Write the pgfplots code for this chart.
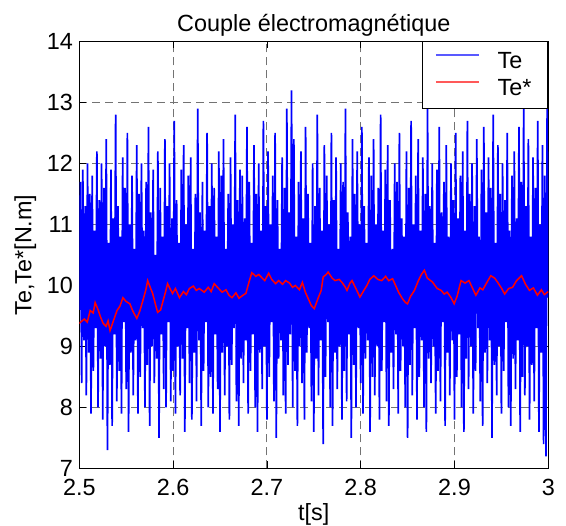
\documentclass[border=0pt]{standalone}
\usepackage{fontspec}
\setmainfont{Liberation Sans}
\usepackage{pgfplots}
\usepackage{pgfplotstable}
\pgfplotsset{compat=1.18}
\newcommand{\f}{\fontsize{11.7}{14}\selectfont}
\pgfplotstableread[header=false,row sep=\\]{
9.6\\11.7\\8.4\\11.9\\9.1\\11.3\\8.2\\12.0\\8.9\\11.5\\7.9\\11.8\\8.6\\10.9\\9.3\\12.2\\8.0\\11.4\\8.8\\12.0\\
7.8\\11.6\\9.0\\12.4\\7.3\\10.7\\8.7\\11.9\\7.7\\11.1\\9.2\\12.8\\8.1\\11.3\\8.6\\10.8\\7.9\\12.1\\9.4\\11.6\\
8.3\\12.5\\7.6\\11.0\\8.9\\11.8\\8.2\\10.6\\9.1\\12.3\\7.9\\11.5\\8.5\\12.0\\9.3\\10.9\\8.0\\11.7\\8.7\\12.6\\
7.7\\11.2\\9.0\\11.9\\8.4\\10.5\\8.8\\12.2\\7.5\\11.6\\9.2\\10.8\\8.3\\12.4\\8.0\\11.3\\9.4\\12.0\\8.1\\11.1\\
8.6\\12.7\\7.9\\11.4\\9.0\\10.7\\8.2\\11.9\\8.8\\12.3\\7.6\\11.0\\9.3\\11.8\\8.4\\12.1\\7.8\\10.6\\8.9\\11.5\\
8.1\\12.9\\9.1\\11.2\\7.7\\11.7\\8.6\\10.9\\9.4\\12.5\\8.0\\11.3\\8.5\\12.0\\7.9\\11.6\\9.2\\10.8\\8.3\\12.2\\
7.6\\11.8\\8.9\\12.4\\8.2\\10.6\\9.0\\11.5\\7.8\\12.1\\8.7\\11.0\\9.3\\12.8\\8.1\\11.4\\7.7\\11.9\\8.8\\11.8\\
8.4\\11.1\\9.1\\12.6\\7.9\\11.7\\8.6\\10.7\\9.2\\12.3\\8.0\\11.5\\7.6\\12.0\\8.9\\10.9\\8.3\\12.7\\9.0\\11.3\\
7.8\\12.2\\8.5\\11.0\\9.4\\11.8\\8.1\\12.5\\7.5\\11.4\\8.8\\10.6\\9.1\\12.1\\8.2\\11.6\\7.9\\12.9\\8.7\\11.2\\
9.2\\13.2\\8.0\\12.4\\8.6\\10.8\\7.7\\11.7\\9.0\\12.2\\8.4\\11.1\\7.8\\12.6\\8.9\\11.5\\9.3\\10.7\\8.1\\12.0\\
7.6\\11.3\\8.8\\12.8\\8.2\\11.6\\9.1\\10.9\\7.4\\12.3\\8.5\\11.8\\9.4\\11.0\\8.0\\12.5\\7.7\\11.4\\8.9\\12.1\\
8.3\\10.6\\9.0\\12.0\\7.8\\11.7\\8.6\\12.9\\8.1\\11.2\\9.2\\10.8\\7.5\\12.4\\8.7\\11.5\\8.0\\12.2\\9.3\\11.0\\
8.4\\12.6\\7.9\\11.3\\8.8\\10.7\\9.1\\12.1\\7.6\\11.8\\8.5\\12.4\\8.2\\11.0\\9.0\\11.6\\7.8\\12.8\\8.6\\10.9\\
9.4\\11.9\\8.1\\12.3\\7.7\\11.4\\8.9\\10.6\\8.3\\12.0\\9.2\\11.7\\7.9\\12.5\\8.6\\11.1\\9.0\\10.8\\8.0\\12.2\\
7.5\\11.6\\8.7\\12.7\\8.2\\11.0\\9.3\\11.8\\7.8\\12.4\\8.5\\10.9\\9.1\\12.1\\8.0\\11.5\\7.6\\12.9\\8.8\\11.3\\
8.4\\12.0\\9.0\\10.7\\7.9\\11.9\\8.6\\12.6\\8.1\\11.2\\9.4\\11.7\\7.7\\12.3\\8.9\\10.8\\8.2\\12.0\\9.1\\11.4\\
7.8\\12.5\\8.5\\11.1\\9.2\\11.8\\8.0\\12.2\\7.6\\10.9\\8.8\\12.7\\8.3\\11.5\\9.0\\12.0\\7.9\\11.3\\8.6\\12.4\\
9.3\\10.8\\8.1\\11.9\\7.7\\12.6\\8.9\\11.2\\8.4\\12.1\\9.1\\11.6\\7.5\\12.8\\8.7\\10.7\\8.2\\12.3\\9.0\\11.5\\
7.9\\12.0\\8.6\\11.4\\9.4\\12.5\\8.0\\10.9\\7.7\\11.8\\8.8\\12.2\\8.3\\11.1\\9.1\\12.6\\7.6\\11.7\\8.5\\12.9\\
8.2\\11.3\\9.0\\12.4\\7.8\\10.8\\8.7\\12.1\\8.1\\11.6\\9.3\\12.7\\7.6\\11.0\\8.9\\12.3\\7.4\\11.8\\7.2\\12.9\\
9.8\\
}\tableTe
\pgfplotstableread{
t v
2.5000 9.38
2.5053 9.45
2.5085 9.40
2.5116 9.59
2.5148 9.55
2.5169 9.72
2.5201 9.60
2.5222 9.50
2.5254 9.38
2.5285 9.33
2.5307 9.42
2.5328 9.26
2.5359 9.40
2.5402 9.59
2.5433 9.66
2.5465 9.80
2.5497 9.74
2.5539 9.70
2.5571 9.58
2.5613 9.46
2.5645 9.58
2.5677 9.75
2.5708 9.92
2.5729 10.08
2.5761 9.95
2.5782 9.87
2.5814 9.68
2.5835 9.56
2.5867 9.60
2.5888 9.72
2.5920 9.90
2.5941 10.03
2.5973 9.93
2.5994 9.87
2.6025 9.95
2.6068 9.80
2.6110 9.90
2.6142 9.85
2.6173 9.95
2.6216 9.99
2.6247 9.92
2.6279 9.95
2.6332 9.89
2.6374 9.97
2.6406 9.90
2.6438 10.03
2.6480 9.96
2.6522 9.89
2.6564 9.93
2.6596 9.84
2.6628 9.80
2.6670 9.88
2.6702 9.79
2.6744 9.84
2.6776 9.87
2.6808 10.05
2.6839 10.21
2.6882 10.15
2.6913 10.18
2.6945 10.13
2.6977 10.08
2.7019 10.20
2.7051 10.10
2.7093 10.03
2.7125 10.08
2.7167 10.02
2.7199 10.08
2.7241 10.04
2.7273 9.97
2.7304 10.00
2.7347 9.93
2.7378 10.05
2.7410 9.89
2.7442 9.78
2.7474 9.67
2.7505 9.62
2.7548 9.80
2.7579 9.92
2.7600 10.14
2.7632 10.18
2.7653 10.22
2.7696 10.12
2.7727 10.08
2.7770 10.10
2.7801 10.05
2.7833 9.98
2.7854 9.92
2.7886 10.04
2.7907 10.08
2.7949 9.95
2.7992 9.81
2.8034 9.92
2.8066 10.00
2.8097 10.10
2.8140 10.16
2.8182 10.10
2.8224 10.08
2.8266 10.15
2.8298 10.08
2.8340 10.11
2.8372 10.00
2.8404 9.89
2.8446 9.78
2.8478 9.72
2.8499 9.70
2.8531 9.82
2.8573 9.92
2.8615 10.08
2.8647 10.18
2.8679 10.25
2.8710 10.12
2.8763 10.06
2.8816 9.95
2.8858 9.92
2.8890 9.86
2.8922 9.89
2.8964 9.80
2.8996 9.70
2.9027 9.82
2.9070 10.08
2.9112 10.04
2.9154 10.08
2.9197 9.94
2.9228 9.84
2.9271 9.96
2.9302 9.93
2.9345 10.05
2.9387 10.16
2.9429 10.12
2.9461 10.05
2.9503 9.95
2.9535 9.86
2.9577 9.95
2.9619 9.97
2.9662 10.08
2.9715 10.16
2.9757 10.02
2.9799 9.92
2.9841 9.96
2.9884 9.84
2.9926 9.93
2.9958 9.85
3.0000 9.90
}\tableTestar
\begin{document}
\begin{tikzpicture}
\begin{axis}[
  scale only axis,
  width=234.5pt, height=213.5pt,
  xmin=2.5, xmax=3, ymin=7, ymax=14,
  xtick={2.5,2.6,2.7,2.8,2.9,3},
  ytick={7,8,9,10,11,12,13,14},
  /pgf/number format/assume math mode=true,
  tick label style={font=\f},
  xticklabel style={anchor=base, inner sep=0pt, yshift=-13.75pt},
  yticklabel style={anchor=east, inner sep=0pt, xshift=-3pt},
  title style={font=\f, at={(axis description cs:0.5,1)}, anchor=base, inner sep=0pt, yshift=-1.1pt},
  xlabel style={font=\f, at={(axis description cs:0.5,0)}, anchor=base, inner sep=0pt, yshift=-26.25pt},
  ylabel style={font=\f, at={(axis description cs:-0.1151,0.5)}, anchor=center, inner sep=0pt},
  tick align=inside, tick pos=both,
  major tick length=3.5pt,
  tick style={black, line width=0.4pt},
  axis line style={black, line width=0.5pt},
  grid=major,
  major grid style={black!55, line width=0.5pt, dash pattern=on 4pt off 2.5pt},
  title={Couple électromagnétique},
  xlabel={t[s]},
  ylabel={Te,Te*[N.m]},
  legend style={at={(1,1)}, anchor=north east, draw=black, fill=white,
    font=\f, line width=0.5pt, inner xsep=6.15pt, inner ysep=3pt, row sep=0pt, column sep=7pt},
  legend cell align=left,
  legend image code/.code={\draw[#1] (0pt,3.3pt) -- (21.5pt,3.3pt);},
]
\addplot[blue, line width=0.85pt, forget plot] table[x expr=2.5+\coordindex*0.00125, y index=0] {\tableTe};
\addplot[red, line width=0.75pt, forget plot] table[x=t, y=v] {\tableTestar};
\addlegendimage{color=blue!65, line width=0.9pt}
\addlegendentry{Te}
\addlegendimage{color=red!65, line width=0.9pt}
\addlegendentry{Te*}
\coordinate (sw) at (rel axis cs:0,0);
\coordinate (ne) at (rel axis cs:1,1);
\end{axis}
\pgfresetboundingbox
\path[use as bounding box] ([xshift=-39.65pt,yshift=-28.75pt]sw) rectangle ([xshift=8.85pt,yshift=20.75pt]ne);
\end{tikzpicture}
\end{document}
